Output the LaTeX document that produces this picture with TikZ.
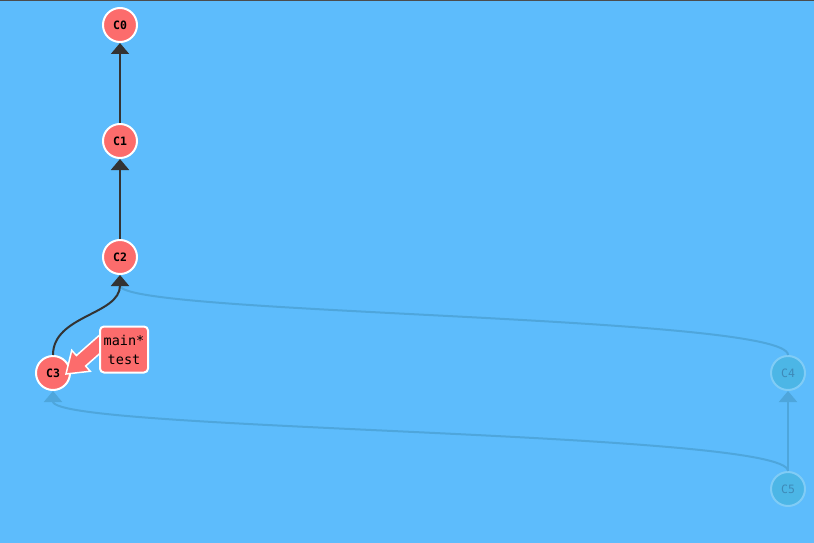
\documentclass[tikz,border=0pt]{standalone}
\usepackage{fontspec}
\setmonofont{DejaVu Sans Mono}
\usetikzlibrary{arrows.meta,calc}
\definecolor{bgblue}{RGB}{93,188,252}
\definecolor{topline}{RGB}{76,76,76}
\definecolor{commitred}{RGB}{252,108,108}
\definecolor{edgedark}{RGB}{51,51,51}
\definecolor{ghostfill}{RGB}{76,182,230}
\definecolor{ghostring}{RGB}{128,204,246}
\definecolor{ghosttext}{RGB}{62,138,184}
\definecolor{ghostline}{RGB}{78,166,220}
\begin{document}
\begin{tikzpicture}[x=1pt,y=-1pt,
  commit/.style={circle, draw=white, line width=2pt, fill=commitred, minimum size=34pt, inner sep=0pt, font=\ttfamily\bfseries\fontsize{11.5}{13}\selectfont},
  ghost/.style={commit, draw=ghostring, fill=ghostfill, text=ghosttext, font=\ttfamily\fontsize{11.5}{13}\selectfont},
  edge/.style={draw=edgedark, line width=2pt, -{Triangle[width=18pt,length=11pt]}},
  ghostedge/.style={edge, draw=ghostline},
  branch/.style={draw=white, line width=2pt, fill=commitred, rounded corners=4pt, minimum width=48pt, minimum height=46pt, inner sep=2pt, align=center, font=\ttfamily\fontsize{13.5}{19}\selectfont}]
\useasboundingbox (0,0) rectangle (814,543);
\fill[bgblue] (-2,-2) rectangle (816,545);
\fill[topline] (-2,-2) rectangle (816,1.2);

\node[commit] (c0) at (120,25) {C0};
\node[commit] (c1) at (120,141) {C1};
\node[commit] (c2) at (120,257) {C2};
\node[commit] (c3) at (53,373) {C3};
\node[ghost] (c4) at (788,373) {C4};
\node[ghost] (c5) at (788,489) {C5};

% ghost edges first
\draw[ghostedge] (c4.north) .. controls ($(c4.north)+(0,-40)$) and ($(c2.south)+(0,40)$) .. (c2.south);
\draw[ghostedge] (c5.north) .. controls ($(c5.north)+(0,-40)$) and ($(c3.south)+(0,40)$) .. (c3.south);
\draw[ghostedge] (c5) -- (c4);

\draw[edge] (c1) -- (c0);
\draw[edge] (c2) -- (c1);
\draw[edge] (c3.north) .. controls ($(c3.north)+(0,-40)$) and ($(c2.south)+(0,40)$) .. (c2.south);

% branch label and its fat arrow
\coordinate (lblpos) at (124,349.5);
\coordinate (tail) at (108,337);
\coordinate (tip) at (66,374);
\coordinate (hb) at ($(tip)!20pt!(tail)$);
\filldraw[fill=commitred, draw=white, line width=1.5pt, line join=miter]
  (tip) -- ($(hb)!14pt!90:(tail)$) -- ($(hb)!7pt!90:(tail)$) -- ($(tail)!7pt!-90:(tip)$)
  -- ($(tail)!7pt!90:(tip)$) -- ($(hb)!7pt!-90:(tail)$) -- ($(hb)!14pt!-90:(tail)$) -- cycle;
\node[branch] (lbl) at (lblpos) {main*\\test};
\end{tikzpicture}
\end{document}
